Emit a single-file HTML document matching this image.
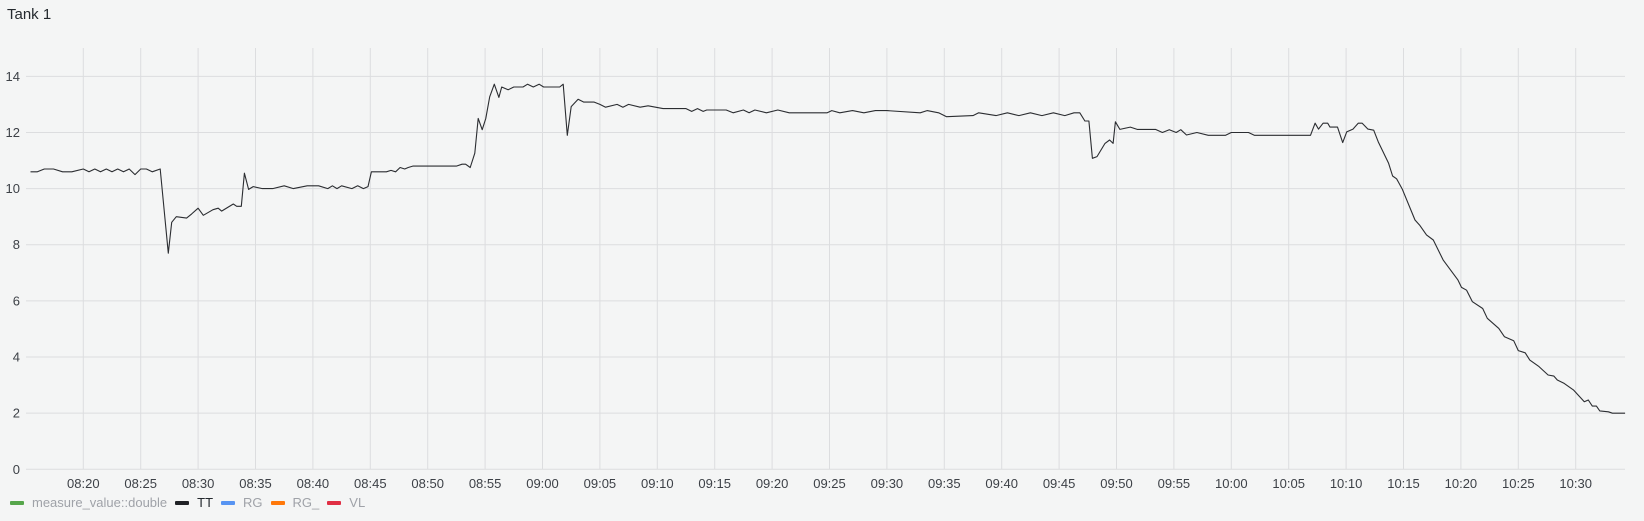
<!DOCTYPE html>
<html><head><meta charset="utf-8"><style>
html,body{margin:0;padding:0;background:#f4f5f5;width:1644px;height:521px;overflow:hidden;font-family:"Liberation Sans",sans-serif}
.title{position:absolute;left:7px;top:6px;font-size:15px;color:#24292e}
svg{position:absolute;left:0;top:0}
.legend{position:absolute;top:495px;left:10px;font-size:13px;display:flex;align-items:center}
.li{display:flex;align-items:center;margin-right:8px;color:#9fa2a8}
.sw{width:14px;height:4px;border-radius:1px;margin-right:8px}
</style></head><body>
<div class="title">Tank 1</div>
<svg id="chart" width="1644" height="521"></svg>
<div class="legend">
<div class="li"><span class="sw" style="background:#56a64b"></span>measure_value::double</div>
<div class="li" style="color:#24292e"><span class="sw" style="background:#202226"></span>TT</div>
<div class="li"><span class="sw" style="background:#5794f2"></span>RG</div>
<div class="li"><span class="sw" style="background:#ff780a"></span>RG_</div>
<div class="li"><span class="sw" style="background:#e02f44"></span>VL</div>
</div>
<script>
// minutes after 08:20
const times = [
-4.6,-4,-3.4,-2.6,-1.8,-1,0,0.5,1,1.5,2,2.5,3,3.5,4,4.5,5,5.5,6,6.7,
7.4,7.7,8.1,9.0,9.44,10.0,10.45,11.3,11.75,12.05,13.07,13.36,13.76,14.03,14.4,14.8,
15.6,16.5,17.5,18.3,19.5,20.5,21.3,21.7,22.1,22.5,23.4,23.9,24.4,24.8,25.1,
26.4,26.8,27.2,27.6,28.0,28.3,28.7,32.5,33.0,33.3,33.7,
34.1,34.4,34.75,35.06,35.4,35.8,36.2,36.45,37.0,37.5,38.3,38.7,39.2,39.7,40.1,41.5,41.8,
42.16,42.5,43.1,43.6,44.5,45.0,45.5,46.5,47.0,47.5,48.5,49.2,50.5,51.5,52.5,53.0,53.5,54.0,54.3,
56.0,56.6,57.5,58.0,58.5,59.5,60.5,61.5,62.4,64.8,65.2,65.9,67.0,68.0,69.0,70.0,72.9,73.5,74.5,75.2,
77.5,78.0,79.5,80.5,81.5,82.5,83.5,84.5,85.5,86.3,86.8,
87.25,87.6,87.9,88.3,89.0,89.4,89.7,89.9,90.3,91.2,91.8,93.4,94.0,94.6,95.2,95.6,96.1,97.0,98.0,99.5,100.0,100.7,101.5,102.0,102.5,106.9,
107.3,107.6,108.0,108.4,108.6,109.25,109.7,110.05,110.6,111.05,111.4,111.9,112.4,112.8,113.7,114.05,114.4,114.9,116.0,116.4,117.0,117.6,118.45,119.75,120.05,120.5,121.0,121.9,122.3,
123.3,123.8,124.6,125.0,125.6,126.0,126.8,127.6,128.1,128.4,129.0,129.8,130.75,131.1,131.45,131.8,132.1,132.85,133.2,134.3];
const values = [
10.6,10.6,10.7,10.7,10.6,10.6,10.7,10.6,10.7,10.6,10.7,10.6,10.7,10.6,10.7,10.5,10.7,10.7,10.6,10.7,
7.7,8.8,9.0,8.95,9.1,9.3,9.05,9.25,9.3,9.2,9.45,9.37,9.37,10.55,9.97,10.07,
10.0,10.0,10.1,10.0,10.1,10.1,10.0,10.1,10.0,10.1,10.0,10.1,10.0,10.07,10.6,
10.6,10.65,10.6,10.75,10.7,10.75,10.8,10.8,10.87,10.87,10.75,
11.26,12.5,12.1,12.5,13.27,13.72,13.25,13.62,13.52,13.62,13.62,13.72,13.62,13.72,13.62,13.62,13.72,
11.9,12.92,13.18,13.08,13.08,13.0,12.9,13.0,12.9,13.0,12.9,12.95,12.85,12.85,12.85,12.75,12.85,12.75,12.8,
12.8,12.7,12.8,12.7,12.8,12.7,12.8,12.7,12.7,12.7,12.78,12.7,12.78,12.7,12.78,12.78,12.7,12.78,12.7,12.56,
12.6,12.7,12.6,12.7,12.6,12.7,12.6,12.7,12.6,12.7,12.7,
12.41,12.41,11.08,11.14,11.61,11.73,11.61,12.38,12.11,12.19,12.11,12.11,12.0,12.1,12.0,12.1,11.91,12.0,11.9,11.9,12.0,12.0,12.0,11.9,11.9,11.9,
12.33,12.12,12.33,12.33,12.19,12.19,11.64,12.02,12.12,12.33,12.33,12.12,12.08,11.67,10.9,10.45,10.35,9.97,8.88,8.7,8.35,8.17,7.46,6.74,6.48,6.38,5.97,5.73,5.38,
5.02,4.72,4.58,4.23,4.15,3.89,3.66,3.36,3.32,3.18,3.06,2.83,2.41,2.47,2.25,2.25,2.08,2.05,2.0,2.0];
const yTicks = [0,2,4,6,8,10,12,14];
const xTickLabels = ["08:20","08:25","08:30","08:35","08:40","08:45","08:50","08:55","09:00","09:05","09:10","09:15","09:20","09:25","09:30","09:35","09:40","09:45","09:50","09:55","10:00","10:05","10:10","10:15","10:20","10:25","10:30"];

const NS="http://www.w3.org/2000/svg";
const svg=document.getElementById('chart');
const xS=t=>83.3+t*11.48;
const yS=v=>469.3-v*28.07;
const L=26,R=1625,T=48;
function mk(tag,a){const e=document.createElementNS(NS,tag);for(const k in a)e.setAttribute(k,a[k]);svg.appendChild(e);return e;}
yTicks.forEach(v=>{
  const g=mk('line',{x1:L,x2:R,y1:yS(v),y2:yS(v),stroke:'#dcdddf','stroke-width':1});
  
  
  const t=mk('text',{x:20,y:yS(v)+4.5,'text-anchor':'end','font-size':13,fill:'#3d4147','font-family':'Liberation Sans, sans-serif'});
  t.textContent=v;
  
  
});
xTickLabels.forEach((lab,i)=>{
  const x=xS(i*5);
  const g=mk('line',{x1:x,x2:x,y1:T,y2:yS(0),stroke:'#dcdddf','stroke-width':1});
  
  
  const t=mk('text',{x:x,y:488,'text-anchor':'middle','font-size':13,fill:'#3d4147','font-family':'Liberation Sans, sans-serif'});
  t.textContent=lab;
  
  
});
const n=Math.min(times.length,values.length);
let d='';
for(let i=0;i<n;i++){d+=(i?'L':'M')+xS(times[i]).toFixed(1)+','+yS(values[i]).toFixed(1)+' ';}
const p=mk('path',{d:d,fill:'none',stroke:'#2b2d31','stroke-width':1.1,'stroke-linejoin':'round'});


</script>
</body></html>
